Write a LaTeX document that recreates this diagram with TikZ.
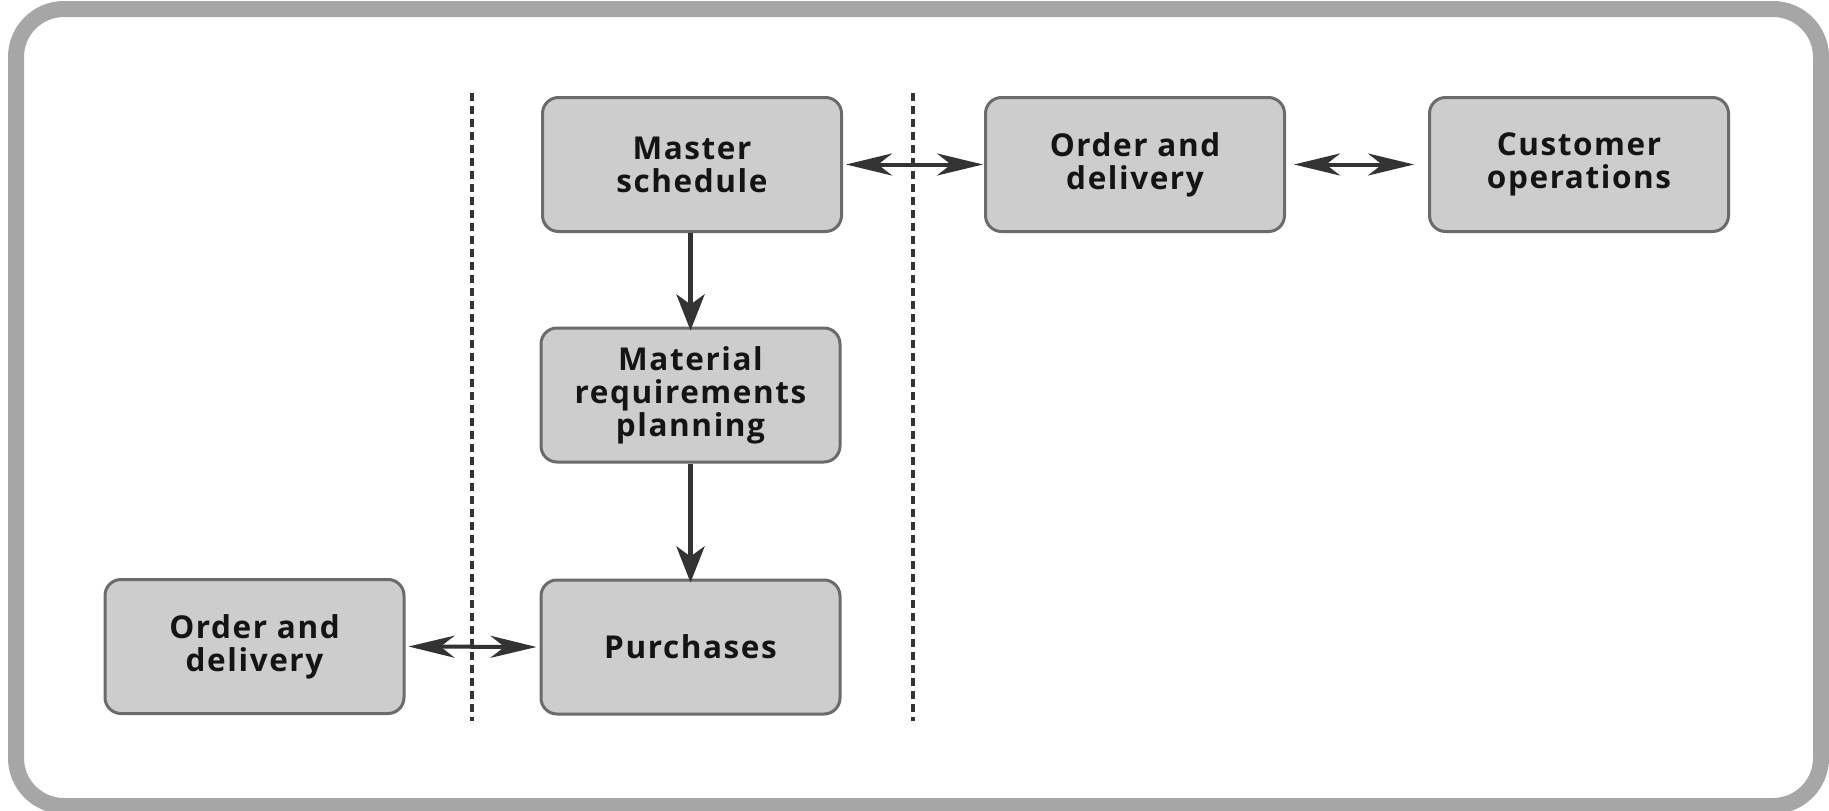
\documentclass[tikz,border=0pt]{standalone}
\usepackage{fontspec}
\setmainfont{Open Sans}[LetterSpace=5]
\usetikzlibrary{arrows.meta}
\definecolor{framegray}{HTML}{A6A6A6}
\definecolor{boxfill}{HTML}{CDCDCD}
\definecolor{boxline}{HTML}{6B6B6B}
\definecolor{ink}{HTML}{333333}
\tikzset{
  unit/.style={draw=boxline, line width=3pt, fill=boxfill, rounded corners=16pt,
    minimum width=299pt, minimum height=134pt, align=center, text=black!92,
    font=\fontsize{31.5}{33}\selectfont\bfseries},
  flow/.style={draw=ink, line width=5pt, -{Stealth[length=36pt,width=28pt,inset=10pt]}},
  link/.style={draw=ink, line width=4pt,
    {Stealth[length=46pt,width=22pt,inset=14pt]}-{Stealth[length=46pt,width=22pt,inset=14pt]}},
  divider/.style={draw=ink, line width=3.5pt, dash pattern=on 8pt off 5pt},
}
\begin{document}
\begin{tikzpicture}[x=1pt,y=-1pt]
  \useasboundingbox (0,0) rectangle (1829,811);
  % outer frame
  \draw[framegray, line width=16pt, rounded corners=48pt] (16,9) rectangle (1821,806);

  % department boundaries
  \coordinate (d1t) at (472,93);  \coordinate (d1b) at (472,721);
  \coordinate (d2t) at (913,93);  \coordinate (d2b) at (913,721);
  \draw[divider] (d1t) -- (d1b);
  \draw[divider] (d2t) -- (d2b);

  % units
  \node[unit] (ms)  at (692,164.5) {Master\\schedule};
  \node[unit] (od1) at (1135,164.5) {Order and\\delivery};
  \node[unit] (co)  at (1579,164.5) {Customer\\operations};
  \node[unit] (mrp) at (690.5,395) {Material\\requirements\\planning};
  \node[unit] (pur) at (690.5,647) {Purchases};
  \node[unit] (od2) at (254.5,646.5) {Order and\\delivery};

  % connections
  \draw[link] ([xshift=3pt]ms.east) -- ([xshift=-1pt]od1.west);
  \draw[link] ([xshift=8pt]od1.east) -- ([xshift=-14pt]co.west);
  \draw[link] ([xshift=3pt]od2.east) -- ([xshift=-3pt]pur.west);
  \draw[flow] (mrp.north |- ms.south) -- ([yshift=-4pt]mrp.north);
  \draw[flow] (mrp.south) -- ([yshift=-4pt]pur.north);
\end{tikzpicture}
\end{document}
